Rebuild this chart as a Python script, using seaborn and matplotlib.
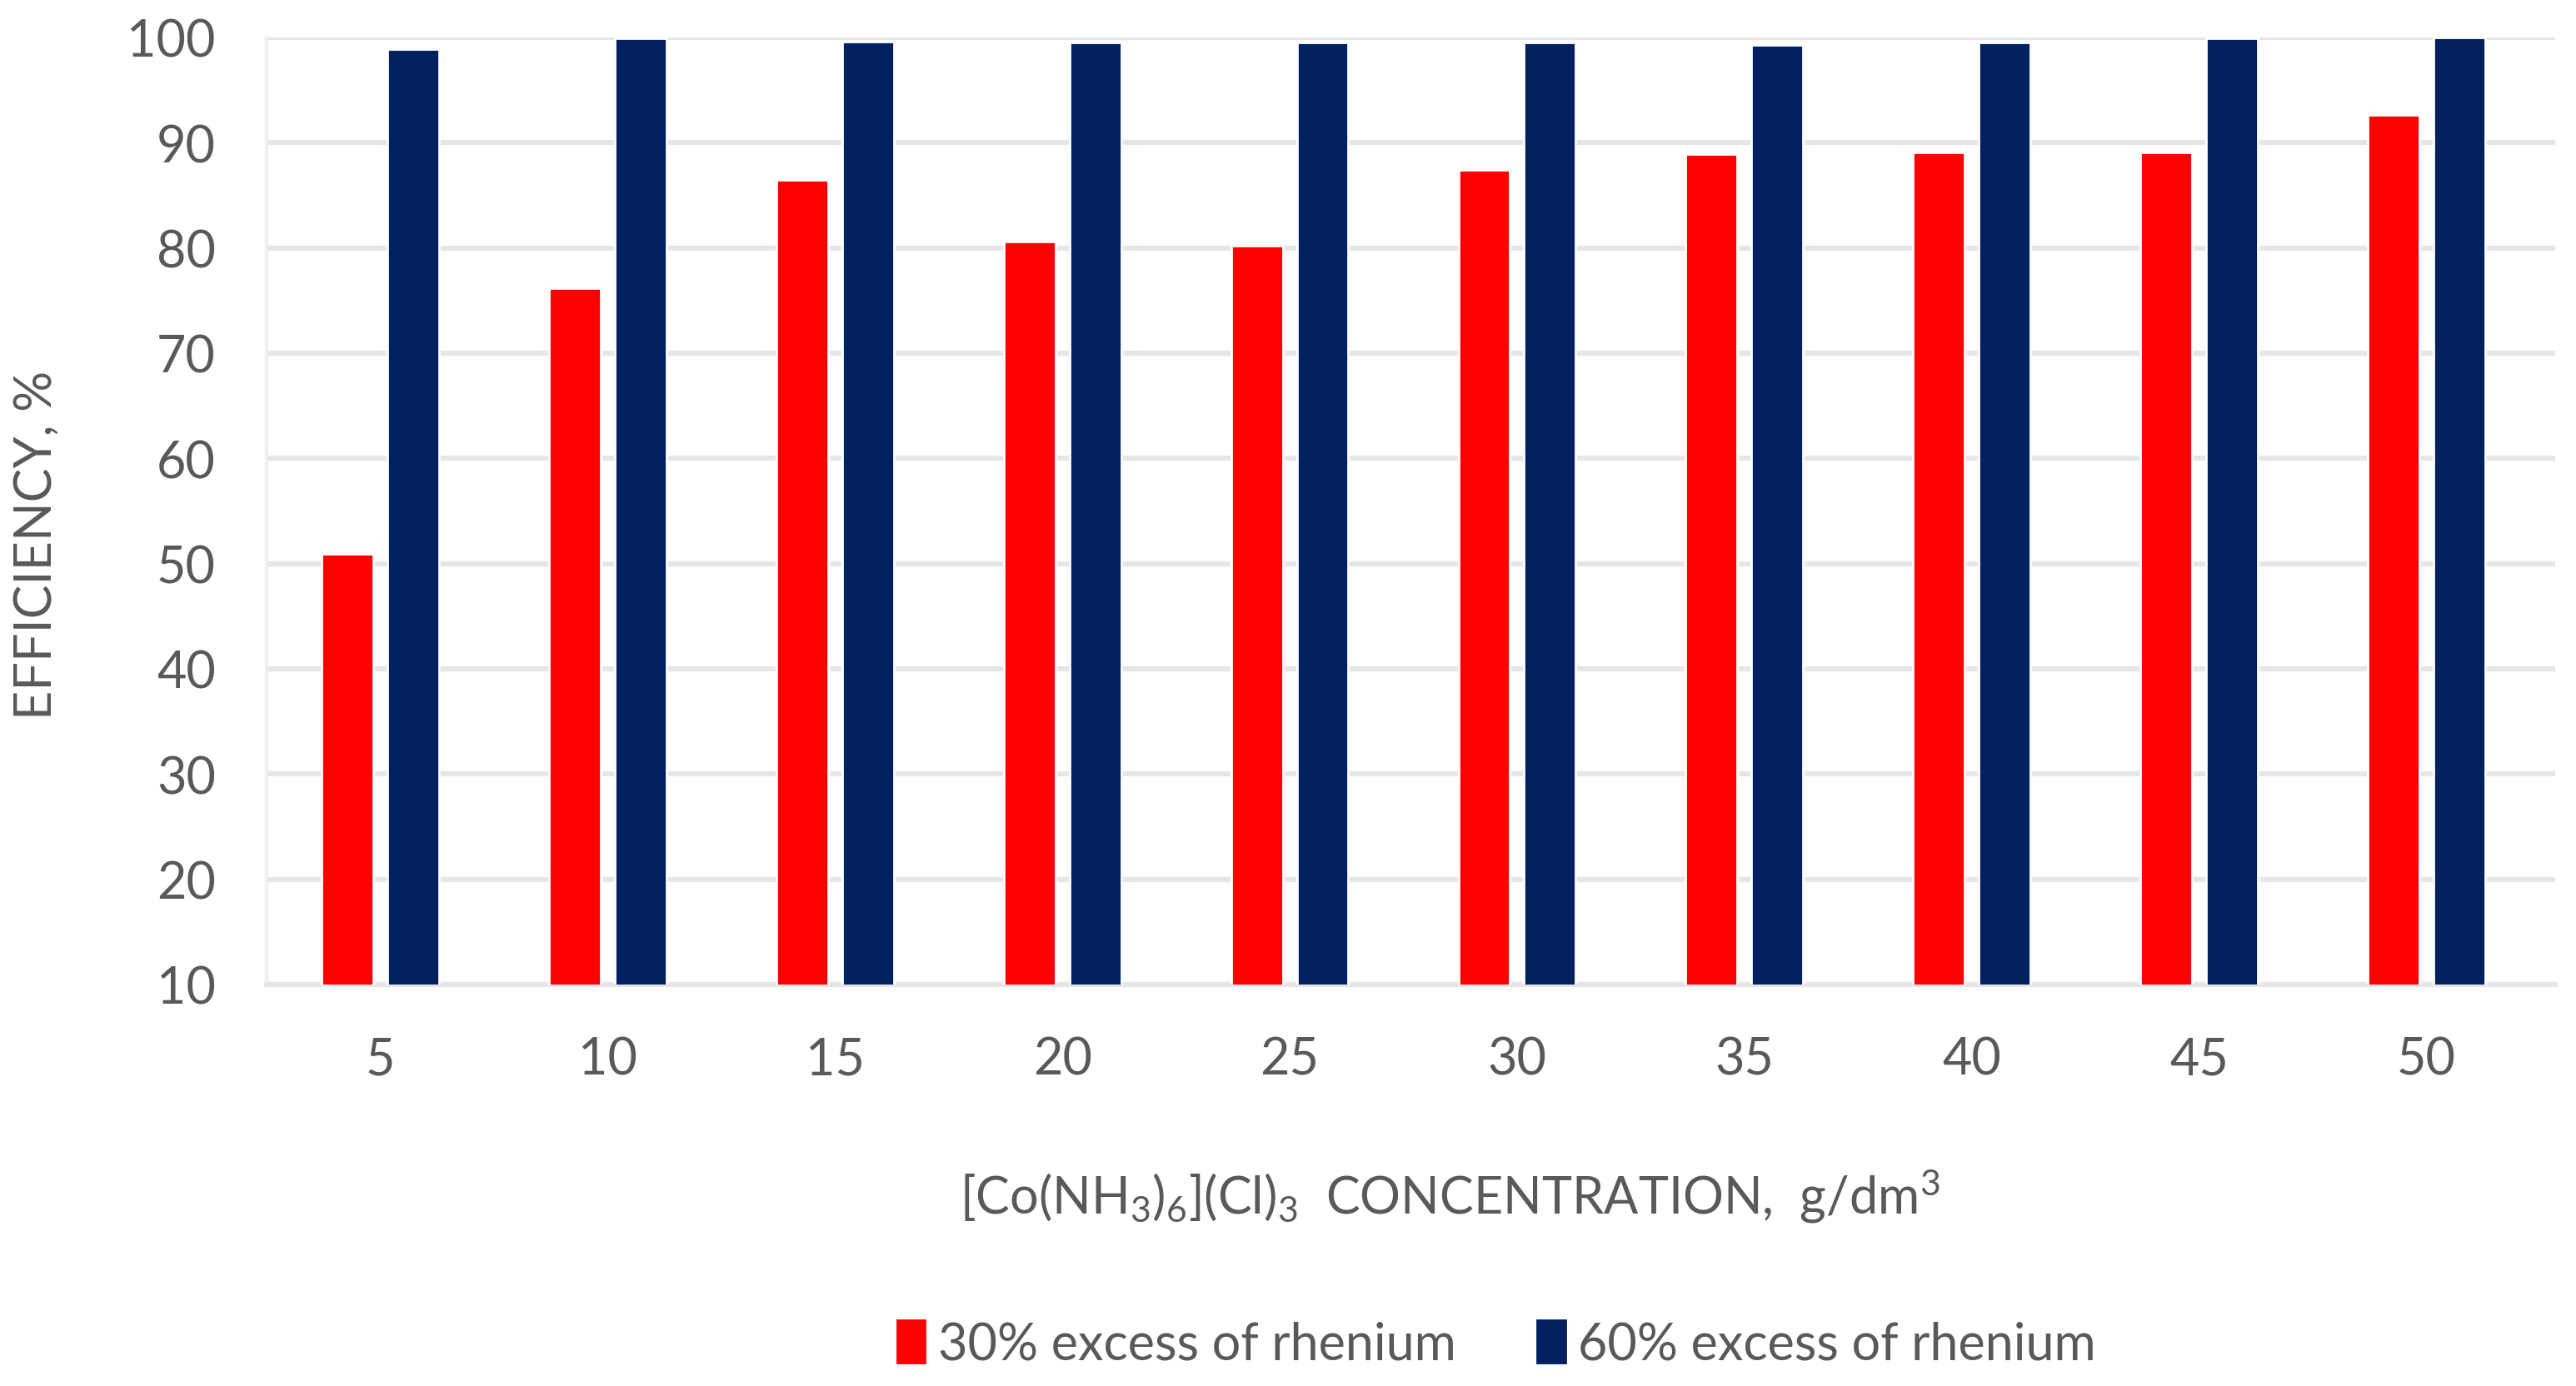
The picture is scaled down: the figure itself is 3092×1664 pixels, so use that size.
import pandas as pd
import numpy as np
import matplotlib
matplotlib.use("Agg")
import matplotlib.pyplot as plt
import seaborn as sns
from matplotlib.patches import Patch

# data
conc = [5, 10, 15, 20, 25, 30, 35, 40, 45, 50]
eff_30 = [50.9, 76.2, 86.5, 80.6, 80.2, 87.4, 88.9, 89.1, 89.1, 92.6]
eff_60 = [98.9, 99.9, 99.6, 99.5, 99.5, 99.5, 99.3, 99.5, 99.9, 100.0]
series = ["30% excess of rhenium", "60% excess of rhenium"]
colors = ["#FF0000", "#002060"]
yticks = [10, 20, 30, 40, 50, 60, 70, 80, 90, 100]

df = pd.DataFrame({
    "conc": conc * 2,
    "eff": eff_30 + eff_60,
    "series": [series[0]] * len(conc) + [series[1]] * len(conc),
})

sns.set_theme(style="white")
plt.rcParams["font.family"] = ["Lato", "DejaVu Sans"]
plt.rcParams["mathtext.default"] = "regular"
txt = "#595959"
fs = 22

fig = plt.figure(figsize=(15.46, 8.325), dpi=200)
ax = fig.add_axes([0.1035, 0.2895, 0.8884, 0.6829])

sns.barplot(data=df, x="conc", y="eff", hue="series", palette=colors,
            width=0.578, gap=0.215, errorbar=None, ax=ax, legend=False,
            saturation=1, zorder=3)

ax.set_xlim(-0.5, 9.566)
ax.set_ylim(10, 100)
ax.set_yticks(yticks)
ax.grid(axis="y", color="#E6E6E6", linewidth=2.2, zorder=0)
ax.set_axisbelow(True)
for s in ["top", "right"]:
    ax.spines[s].set_visible(False)
ax.spines["left"].set_color("#F0F0F0")
ax.spines["left"].set_linewidth(1.5)
ax.spines["bottom"].set_color("#E6E6E6")
ax.spines["bottom"].set_linewidth(2.2)
ax.tick_params(axis="both", length=0, labelsize=fs, labelcolor=txt, pad=22)
ax.set_xlabel("")
ax.set_ylabel("")

fig.text(0.0142, 0.607, "EFFICIENCY, %", rotation=90, ha="center", va="center",
         fontsize=fs, color=txt)
fig.text(0.563, 0.1375, r"[Co(NH$_3$)$_6$](Cl)$_3$  CONCENTRATION,  g/dm$^3$",
         ha="center", va="center", fontsize=fs, color=txt)

handles = [Patch(facecolor=c, edgecolor=c) for c in colors]
fig.legend(handles, series, loc="center", bbox_to_anchor=(0.581, 0.03),
           ncol=2, frameon=False, fontsize=fs, labelcolor=txt,
           handlelength=0.55, handleheight=0.9, handletextpad=0.25,
           columnspacing=1.6)

fig.savefig("out.png", dpi=200)
